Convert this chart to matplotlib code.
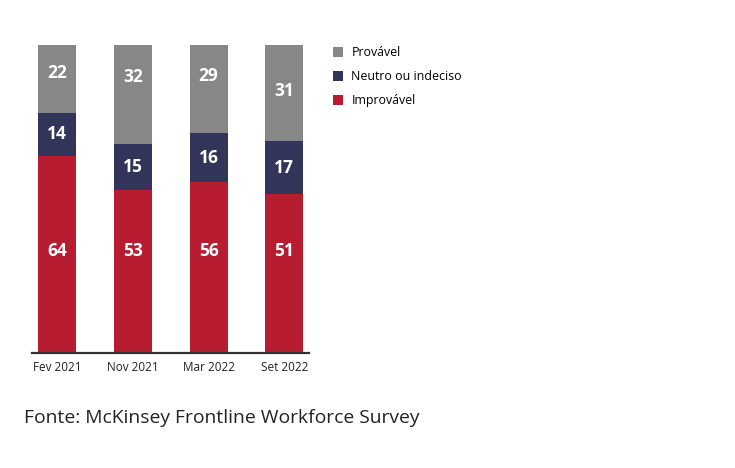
import numpy as np
import matplotlib.pyplot as plt

plt.rcParams['font.family'] = ['Open Sans', 'DejaVu Sans']

# Data
periods = ["Fev 2021", "Nov 2021", "Mar 2022", "Set 2022"]
improvavel = [64, 53, 56, 51]
neutro = [14, 15, 16, 17]
provavel = [22, 32, 29, 31]

c_red = "#b81c30"
c_navy = "#32345a"
c_gray = "#878787"

imp = np.array(improvavel, dtype=float)
neu = np.array(neutro, dtype=float)
pro = np.array(provavel, dtype=float)
total = imp + neu + pro
# bars fill the full height (shares of 100%)
imp_s = imp / total * 100
neu_s = neu / total * 100
pro_s = pro / total * 100

fig = plt.figure(figsize=(7.35, 4.68), dpi=100)
ax = fig.add_axes([32.3 / 735, 1 - 353 / 468, 277 / 735, 308 / 468])

x = np.arange(len(periods))
w = 0.5
ax.bar(x, imp_s, w, color=c_red, label="Improvável")
ax.bar(x, neu_s, w, bottom=imp_s, color=c_navy, label="Neutro ou indeciso")
ax.bar(x, pro_s, w, bottom=imp_s + neu_s, color=c_gray, label="Provável")

# value labels
gray_label_y = [91, 89.5, 90, 85]
for i in range(len(periods)):
    ax.text(x[i], 33, str(improvavel[i]), ha="center", va="center",
            color="white", fontsize=12.5, fontweight="bold")
    ax.text(x[i], imp_s[i] + neu_s[i] / 2, str(neutro[i]), ha="center", va="center",
            color="white", fontsize=12.5, fontweight="bold")
    ax.text(x[i], gray_label_y[i], str(provavel[i]), ha="center", va="center",
            color="white", fontsize=12.5, fontweight="bold")

ax.set_xlim(-0.33, 3.33)
ax.set_ylim(0, 100)
ax.set_xticks(x)
ax.set_xticklabels(periods, fontsize=8.5, color="#222222")
ax.tick_params(axis="x", length=0, pad=6)
ax.set_yticks([])
for s in ["top", "right", "left"]:
    ax.spines[s].set_visible(False)
ax.spines["bottom"].set_color("#333333")
ax.spines["bottom"].set_linewidth(1.6)

handles, labels = ax.get_legend_handles_labels()
fig.legend(handles[::-1], labels[::-1], loc="upper left",
           bbox_to_anchor=(328 / 735, 1 - 41 / 468), frameon=False,
           fontsize=8.9, handlelength=0.85, handleheight=0.85,
           handletextpad=0.65, labelspacing=0.9, borderaxespad=0)

fig.text(24 / 735, 1 - 418 / 468, "Fonte: McKinsey Frontline Workforce Survey",
         fontsize=13.9, color="#222222", va="center", ha="left")

fig.savefig("out.png", dpi=100)
